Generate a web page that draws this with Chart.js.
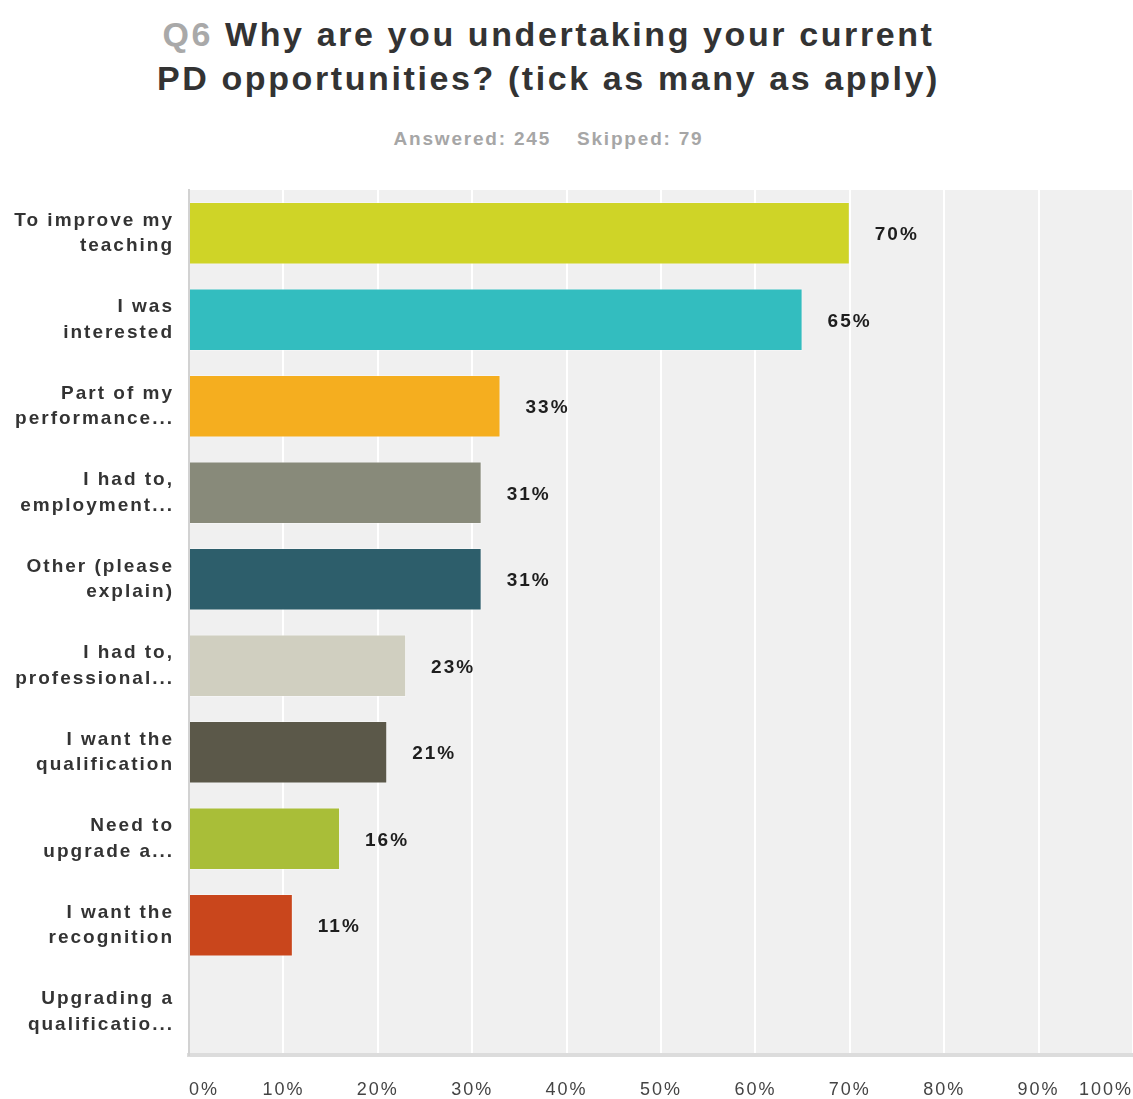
<!DOCTYPE html>
<html>
<head>
  <title>Q6 PD opportunities</title>
  <script src="https://cdn.jsdelivr.net/npm/chart.js"></script>
  <style>
    html, body { margin: 0; padding: 0; background: #fff; }
    #wrap { position: relative; width: 1133px; height: 1099px; overflow: hidden; }
    #title {
      position: absolute; left: 0; top: 12px; width: 1097px;
      text-align: center; font: bold 34px/44px "Liberation Sans", Arial, sans-serif;
      letter-spacing: 2.6px; color: #333;
    }
    #title .qnum { color: #a9a9a9; }
    #stats {
      position: absolute; left: 0; top: 128px; width: 1097px;
      text-align: center; font: bold 19px "Liberation Sans", Arial, sans-serif;
      letter-spacing: 1.8px; color: #a6a6a6;
    }
    #stats span + span { margin-left: 26px; }
    #chartBox { position: absolute; left: 0; top: 0; width: 1133px; height: 1099px; }
  </style>
</head>
<body>
<div id="wrap">
  <div id="title"><span class="qnum">Q6</span> Why are you undertaking your current<br>PD opportunities? (tick as many as apply)</div>
  <div id="stats"><span>Answered: 245</span><span>Skipped: 79</span></div>
  <div id="chartBox"><canvas id="myChart" width="1133" height="1099"></canvas></div>
</div>

<script>
// answer choices (as shown, truncated) and share of respondents in %
var answers = [
  ['To improve my', 'teaching'],
  ['I was', 'interested'],
  ['Part of my', 'performance...'],
  ['I had to,', 'employment...'],
  ['Other (please', 'explain)'],
  ['I had to,', 'professional...'],
  ['I want the', 'qualification'],
  ['Need to', 'upgrade a...'],
  ['I want the', 'recognition'],
  ['Upgrading a', 'qualificatio...']
];
var percents = [70, 65, 33, 31, 31, 23, 21, 16, 11, 0];
var barColors = ['#cfd427', '#33bdbf', '#f5ae1f', '#888a7a', '#2d5e6b',
                 '#d0cfc0', '#5b5849', '#a9be38', '#c9461c', '#999999'];
var pctTicks = [0, 10, 20, 30, 40, 50, 60, 70, 80, 90, 100];

var FONT = '"Liberation Sans", Arial, sans-serif';

// grey panel behind the bars, plus a bit of tracking for the axis text
var plotBackground = {
  id: 'plotBackground',
  beforeDraw: function(chart) {
    var a = chart.chartArea, ctx = chart.ctx;
    ctx.save();
    ctx.fillStyle = '#f0f0f0';
    ctx.fillRect(a.left, a.top, a.right - a.left, a.bottom - a.top);
    ctx.restore();
    ctx.letterSpacing = '2px';
  }
};

// percentage written to the right of every bar
var valueLabels = {
  id: 'valueLabels',
  afterDatasetsDraw: function(chart) {
    var ctx = chart.ctx;
    var meta = chart.getDatasetMeta(0);
    ctx.save();
    ctx.font = 'bold 19px ' + FONT;
    ctx.letterSpacing = '2px';
    ctx.fillStyle = '#1e1e1e';
    ctx.textAlign = 'left';
    ctx.textBaseline = 'middle';
    meta.data.forEach(function(bar, i) {
      var v = percents[i];
      if (!v) return;
      ctx.fillText(v + '%', bar.x + 25, bar.y + 2);
    });
    ctx.restore();
  }
};

var ctx = document.getElementById('myChart').getContext('2d');
var chart = new Chart(ctx, {
  type: 'bar',
  data: {
    labels: answers,
    datasets: [{
      data: percents,
      backgroundColor: barColors,
      borderColor: 'rgba(255,255,255,0.35)',
      borderWidth: 1,
      borderSkipped: 'left',
      barPercentage: 0.72,
      categoryPercentage: 1
    }]
  },
  options: {
    indexAxis: 'y',
    responsive: false,
    animation: false,
    layout: { padding: { top: 190, right: 0, bottom: 0, left: 0 } },
    plugins: {
      legend: { display: false },
      tooltip: { enabled: false }
    },
    scales: {
      x: {
        min: 0,
        max: 100,
        afterFit: function(axis) {
          axis.height = 44;
          axis.paddingLeft = 0;
          axis.paddingRight = 0;
        },
        afterBuildTicks: function(axis) {
          axis.ticks = pctTicks.map(function(v) { return { value: v }; });
        },
        grid: { color: '#ffffff', lineWidth: 2, drawTicks: false },
        border: { display: true, color: '#dcdcdc', width: 4 },
        ticks: {
          align: 'inner',
          padding: 24,
          color: '#444',
          font: { family: FONT, size: 18 },
          callback: function(v) { return v + '%'; }
        }
      },
      y: {
        afterFit: function(axis) {
          axis.width = 189;
          axis.paddingTop = 0;
          axis.paddingBottom = 0;
        },
        grid: { display: false, drawTicks: false },
        border: { display: true, color: '#d2d2d2', width: 2 },
        ticks: {
          padding: 15,
          color: '#333',
          font: { family: FONT, size: 19, weight: 'bold', lineHeight: 1.32 }
        }
      }
    }
  },
  plugins: [plotBackground, valueLabels]
});
</script>
</body>
</html>
